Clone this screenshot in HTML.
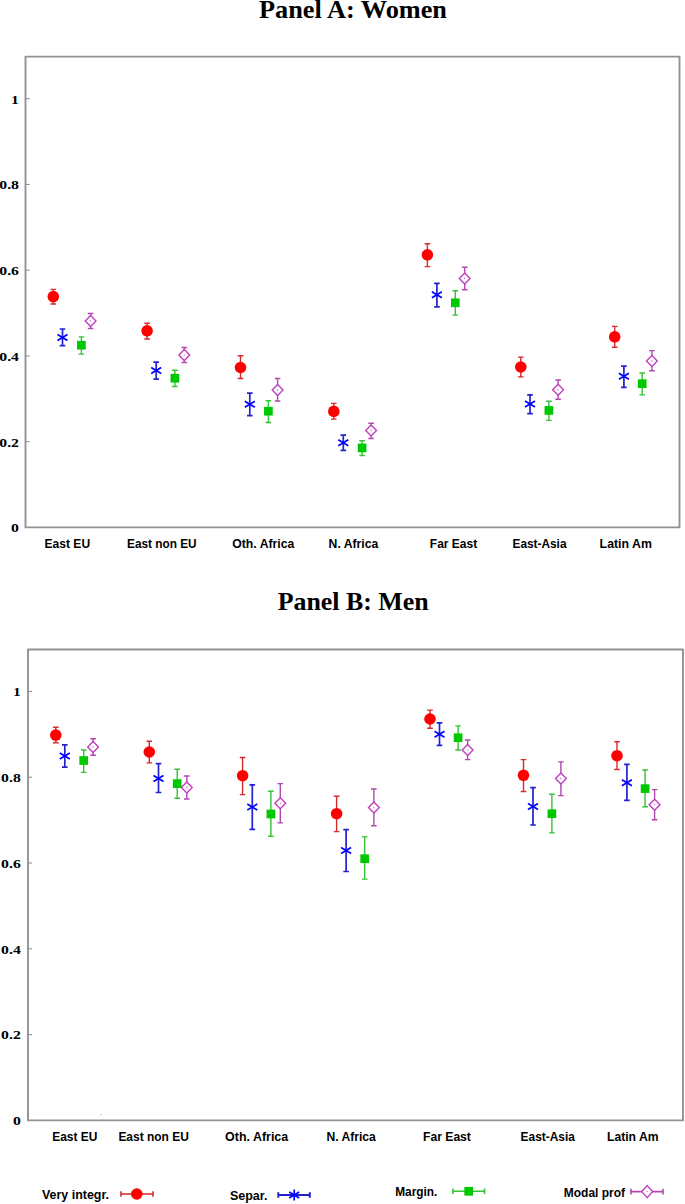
<!DOCTYPE html>
<html><head><meta charset="utf-8"><title>Panels</title>
<style>
html,body{margin:0;padding:0;background:#fff;}
body{width:685px;height:1204px;overflow:hidden;}
svg{display:block;}
.t{font-family:"Liberation Serif",serif;font-weight:bold;font-size:25.8px;fill:#000;}
.yl{font-family:"Liberation Serif",serif;font-weight:bold;font-size:12.4px;fill:#000;}
.xl{font-family:"Liberation Sans",sans-serif;font-weight:bold;font-size:12px;fill:#000;}
</style></head>
<body>
<svg width="685" height="1204" viewBox="0 0 685 1204">
<rect width="685" height="1204" fill="#fff"/>
<text x="259.0" y="17.5" class="t" textLength="188" lengthAdjust="spacingAndGlyphs">Panel A: Women</text>
<text x="277.7" y="609.5" class="t" textLength="151" lengthAdjust="spacingAndGlyphs">Panel B: Men</text>
<path d="M25.5 56.6H679.5V527.4H25.5Z" stroke="#929292" stroke-width="1.9" fill="none" stroke-linejoin="round"/>
<text x="19.0" y="532.30" class="yl" text-anchor="end" transform="translate(19.0 0) scale(1.27 1) translate(-19.0 0)">0</text>
<path d="M25.5 441.66H29.7" stroke="#929292" stroke-width="1.1"/>
<text x="19.0" y="446.56" class="yl" text-anchor="end" transform="translate(19.0 0) scale(1.27 1) translate(-19.0 0)">0.2</text>
<path d="M25.5 355.92H29.7" stroke="#929292" stroke-width="1.1"/>
<text x="19.0" y="360.82" class="yl" text-anchor="end" transform="translate(19.0 0) scale(1.27 1) translate(-19.0 0)">0.4</text>
<path d="M25.5 270.18H29.7" stroke="#929292" stroke-width="1.1"/>
<text x="19.0" y="275.08" class="yl" text-anchor="end" transform="translate(19.0 0) scale(1.27 1) translate(-19.0 0)">0.6</text>
<path d="M25.5 184.44H29.7" stroke="#929292" stroke-width="1.1"/>
<text x="19.0" y="189.34" class="yl" text-anchor="end" transform="translate(19.0 0) scale(1.27 1) translate(-19.0 0)">0.8</text>
<path d="M25.5 98.70H29.7" stroke="#929292" stroke-width="1.1"/>
<text x="19.0" y="103.60" class="yl" text-anchor="end" transform="translate(19.0 0) scale(1.27 1) translate(-19.0 0)">1</text>
<text x="44.5" y="547.6" class="xl" textLength="45.6" lengthAdjust="spacingAndGlyphs">East EU</text>
<text x="127.0" y="547.6" class="xl" textLength="69.60000000000001" lengthAdjust="spacingAndGlyphs">East non EU</text>
<text x="232.3" y="547.6" class="xl" textLength="62.0" lengthAdjust="spacingAndGlyphs">Oth. Africa</text>
<text x="328.59999999999997" y="547.6" class="xl" textLength="49.6" lengthAdjust="spacingAndGlyphs">N. Africa</text>
<text x="429.79999999999995" y="547.6" class="xl" textLength="47.400000000000006" lengthAdjust="spacingAndGlyphs">Far East</text>
<text x="512.5" y="547.6" class="xl" textLength="54.0" lengthAdjust="spacingAndGlyphs">East-Asia</text>
<text x="599.6" y="547.6" class="xl" textLength="52.300000000000004" lengthAdjust="spacingAndGlyphs">Latin Am</text>
<path d="M53.30 289.40V304.00M50.50 289.40H56.10M50.50 304.00H56.10" stroke="#d82a2a" stroke-width="1.4" fill="none"/>
<circle cx="53.3" cy="296.6" r="5.8" fill="#ff0000"/>
<path d="M62.50 329.00V345.70M59.70 329.00H65.30M59.70 345.70H65.30" stroke="#2222d0" stroke-width="1.7" fill="none"/>
<path d="M57.50 334.50L67.50 340.50M57.50 340.50L67.50 334.50" stroke="#0000ff" stroke-width="1.7" fill="none"/>
<path d="M81.40 336.90V354.10M78.60 336.90H84.20M78.60 354.10H84.20" stroke="#34c434" stroke-width="1.4" fill="none"/>
<rect x="77.05" y="340.85" width="8.7" height="8.7" fill="#00c800"/>
<path d="M90.60 313.50V328.50M87.80 313.50H93.40M87.80 328.50H93.40" stroke="#b048b0" stroke-width="1.4" fill="none"/>
<path d="M90.60 315.40L96.00 320.90L90.60 326.40L85.20 320.90Z" stroke="#bf40bf" stroke-width="1.4" fill="#fff"/><circle cx="90.6" cy="320.9" r="0.7" fill="#bf40bf" opacity="0.85"/>
<path d="M147.10 323.20V339.00M144.30 323.20H149.90M144.30 339.00H149.90" stroke="#d82a2a" stroke-width="1.4" fill="none"/>
<circle cx="147.1" cy="330.8" r="5.8" fill="#ff0000"/>
<path d="M156.20 362.20V379.20M153.40 362.20H159.00M153.40 379.20H159.00" stroke="#2222d0" stroke-width="1.7" fill="none"/>
<path d="M151.20 367.50L161.20 373.50M151.20 373.50L161.20 367.50" stroke="#0000ff" stroke-width="1.7" fill="none"/>
<path d="M174.90 370.20V386.50M172.10 370.20H177.70M172.10 386.50H177.70" stroke="#34c434" stroke-width="1.4" fill="none"/>
<rect x="170.55" y="373.85" width="8.7" height="8.7" fill="#00c800"/>
<path d="M184.30 347.50V362.50M181.50 347.50H187.10M181.50 362.50H187.10" stroke="#b048b0" stroke-width="1.4" fill="none"/>
<path d="M184.30 349.40L189.70 354.90L184.30 360.40L178.90 354.90Z" stroke="#bf40bf" stroke-width="1.4" fill="#fff"/><circle cx="184.3" cy="354.9" r="0.7" fill="#bf40bf" opacity="0.85"/>
<path d="M240.50 355.70V378.50M237.70 355.70H243.30M237.70 378.50H243.30" stroke="#d82a2a" stroke-width="1.4" fill="none"/>
<circle cx="240.5" cy="367.5" r="5.8" fill="#ff0000"/>
<path d="M249.80 393.20V415.70M247.00 393.20H252.60M247.00 415.70H252.60" stroke="#2222d0" stroke-width="1.7" fill="none"/>
<path d="M244.80 401.30L254.80 407.30M244.80 407.30L254.80 401.30" stroke="#0000ff" stroke-width="1.7" fill="none"/>
<path d="M268.40 400.70V422.50M265.60 400.70H271.20M265.60 422.50H271.20" stroke="#34c434" stroke-width="1.4" fill="none"/>
<rect x="264.05" y="406.85" width="8.7" height="8.7" fill="#00c800"/>
<path d="M277.60 378.50V401.00M274.80 378.50H280.40M274.80 401.00H280.40" stroke="#b048b0" stroke-width="1.4" fill="none"/>
<path d="M277.60 384.50L283.00 390.00L277.60 395.50L272.20 390.00Z" stroke="#bf40bf" stroke-width="1.4" fill="#fff"/><circle cx="277.6" cy="390.0" r="0.7" fill="#bf40bf" opacity="0.85"/>
<path d="M333.80 403.40V419.10M331.00 403.40H336.60M331.00 419.10H336.60" stroke="#d82a2a" stroke-width="1.4" fill="none"/>
<circle cx="333.8" cy="411.4" r="5.8" fill="#ff0000"/>
<path d="M343.30 435.10V450.40M340.50 435.10H346.10M340.50 450.40H346.10" stroke="#2222d0" stroke-width="1.7" fill="none"/>
<path d="M338.30 439.80L348.30 445.80M338.30 445.80L348.30 439.80" stroke="#0000ff" stroke-width="1.7" fill="none"/>
<path d="M362.10 440.70V455.50M359.30 440.70H364.90M359.30 455.50H364.90" stroke="#34c434" stroke-width="1.4" fill="none"/>
<rect x="357.75" y="443.55" width="8.7" height="8.7" fill="#00c800"/>
<path d="M371.10 423.20V438.50M368.30 423.20H373.90M368.30 438.50H373.90" stroke="#b048b0" stroke-width="1.4" fill="none"/>
<path d="M371.10 425.00L376.50 430.50L371.10 436.00L365.70 430.50Z" stroke="#bf40bf" stroke-width="1.4" fill="#fff"/><circle cx="371.1" cy="430.5" r="0.7" fill="#bf40bf" opacity="0.85"/>
<path d="M427.40 243.80V266.60M424.60 243.80H430.20M424.60 266.60H430.20" stroke="#d82a2a" stroke-width="1.4" fill="none"/>
<circle cx="427.4" cy="254.8" r="5.8" fill="#ff0000"/>
<path d="M436.90 283.30V306.80M434.10 283.30H439.70M434.10 306.80H439.70" stroke="#2222d0" stroke-width="1.7" fill="none"/>
<path d="M431.90 291.70L441.90 297.70M431.90 297.70L441.90 291.70" stroke="#0000ff" stroke-width="1.7" fill="none"/>
<path d="M455.30 290.80V315.10M452.50 290.80H458.10M452.50 315.10H458.10" stroke="#34c434" stroke-width="1.4" fill="none"/>
<rect x="450.95" y="298.45" width="8.7" height="8.7" fill="#00c800"/>
<path d="M464.70 267.30V289.80M461.90 267.30H467.50M461.90 289.80H467.50" stroke="#b048b0" stroke-width="1.4" fill="none"/>
<path d="M464.70 273.00L470.10 278.50L464.70 284.00L459.30 278.50Z" stroke="#bf40bf" stroke-width="1.4" fill="#fff"/><circle cx="464.7" cy="278.5" r="0.7" fill="#bf40bf" opacity="0.85"/>
<path d="M520.80 357.10V376.90M518.00 357.10H523.60M518.00 376.90H523.60" stroke="#d82a2a" stroke-width="1.4" fill="none"/>
<circle cx="520.8" cy="367.0" r="5.8" fill="#ff0000"/>
<path d="M530.00 394.80V413.70M527.20 394.80H532.80M527.20 413.70H532.80" stroke="#2222d0" stroke-width="1.7" fill="none"/>
<path d="M525.00 401.10L535.00 407.10M525.00 407.10L535.00 401.10" stroke="#0000ff" stroke-width="1.7" fill="none"/>
<path d="M548.90 401.20V420.40M546.10 401.20H551.70M546.10 420.40H551.70" stroke="#34c434" stroke-width="1.4" fill="none"/>
<rect x="544.55" y="406.05" width="8.7" height="8.7" fill="#00c800"/>
<path d="M558.10 380.00V399.20M555.30 380.00H560.90M555.30 399.20H560.90" stroke="#b048b0" stroke-width="1.4" fill="none"/>
<path d="M558.10 384.30L563.50 389.80L558.10 395.30L552.70 389.80Z" stroke="#bf40bf" stroke-width="1.4" fill="#fff"/><circle cx="558.1" cy="389.8" r="0.7" fill="#bf40bf" opacity="0.85"/>
<path d="M614.70 326.40V347.20M611.90 326.40H617.50M611.90 347.20H617.50" stroke="#d82a2a" stroke-width="1.4" fill="none"/>
<circle cx="614.7" cy="336.8" r="5.8" fill="#ff0000"/>
<path d="M623.90 366.10V387.30M621.10 366.10H626.70M621.10 387.30H626.70" stroke="#2222d0" stroke-width="1.7" fill="none"/>
<path d="M618.90 373.30L628.90 379.30M618.90 379.30L628.90 373.30" stroke="#0000ff" stroke-width="1.7" fill="none"/>
<path d="M642.20 373.00V394.90M639.40 373.00H645.00M639.40 394.90H645.00" stroke="#34c434" stroke-width="1.4" fill="none"/>
<rect x="637.85" y="379.35" width="8.7" height="8.7" fill="#00c800"/>
<path d="M651.90 350.60V370.70M649.10 350.60H654.70M649.10 370.70H654.70" stroke="#b048b0" stroke-width="1.4" fill="none"/>
<path d="M651.90 355.50L657.30 361.00L651.90 366.50L646.50 361.00Z" stroke="#bf40bf" stroke-width="1.4" fill="#fff"/><circle cx="651.9" cy="361.0" r="0.7" fill="#bf40bf" opacity="0.85"/>
<path d="M28.0 649.5H683.0V1120.4H28.0Z" stroke="#929292" stroke-width="1.9" fill="none" stroke-linejoin="round"/>
<text x="20.8" y="1125.30" class="yl" text-anchor="end" transform="translate(20.8 0) scale(1.27 1) translate(-20.8 0)">0</text>
<path d="M28.0 1034.60H32.2" stroke="#929292" stroke-width="1.1"/>
<text x="20.8" y="1039.50" class="yl" text-anchor="end" transform="translate(20.8 0) scale(1.27 1) translate(-20.8 0)">0.2</text>
<path d="M28.0 948.80H32.2" stroke="#929292" stroke-width="1.1"/>
<text x="20.8" y="953.70" class="yl" text-anchor="end" transform="translate(20.8 0) scale(1.27 1) translate(-20.8 0)">0.4</text>
<path d="M28.0 863.00H32.2" stroke="#929292" stroke-width="1.1"/>
<text x="20.8" y="867.90" class="yl" text-anchor="end" transform="translate(20.8 0) scale(1.27 1) translate(-20.8 0)">0.6</text>
<path d="M28.0 777.20H32.2" stroke="#929292" stroke-width="1.1"/>
<text x="20.8" y="782.10" class="yl" text-anchor="end" transform="translate(20.8 0) scale(1.27 1) translate(-20.8 0)">0.8</text>
<path d="M28.0 691.40H32.2" stroke="#929292" stroke-width="1.1"/>
<text x="20.8" y="696.30" class="yl" text-anchor="end" transform="translate(20.8 0) scale(1.27 1) translate(-20.8 0)">1</text>
<text x="52.199999999999996" y="1140.7" class="xl" textLength="45.2" lengthAdjust="spacingAndGlyphs">East EU</text>
<text x="118.4" y="1140.7" class="xl" textLength="70.5" lengthAdjust="spacingAndGlyphs">East non EU</text>
<text x="225.1" y="1140.7" class="xl" textLength="63.1" lengthAdjust="spacingAndGlyphs">Oth. Africa</text>
<text x="326.4" y="1140.7" class="xl" textLength="49.400000000000006" lengthAdjust="spacingAndGlyphs">N. Africa</text>
<text x="423.09999999999997" y="1140.7" class="xl" textLength="47.800000000000004" lengthAdjust="spacingAndGlyphs">Far East</text>
<text x="520.6" y="1140.7" class="xl" textLength="54.300000000000004" lengthAdjust="spacingAndGlyphs">East-Asia</text>
<text x="607.0" y="1140.7" class="xl" textLength="51.5" lengthAdjust="spacingAndGlyphs">Latin Am</text>
<path d="M55.80 727.30V742.80M53.00 727.30H58.60M53.00 742.80H58.60" stroke="#d82a2a" stroke-width="1.4" fill="none"/>
<circle cx="55.8" cy="735.1" r="5.8" fill="#ff0000"/>
<path d="M64.80 744.80V767.10M62.00 744.80H67.60M62.00 767.10H67.60" stroke="#2222d0" stroke-width="1.7" fill="none"/>
<path d="M59.80 752.90L69.80 758.90M59.80 758.90L69.80 752.90" stroke="#0000ff" stroke-width="1.7" fill="none"/>
<path d="M83.70 750.00V772.40M80.90 750.00H86.50M80.90 772.40H86.50" stroke="#34c434" stroke-width="1.4" fill="none"/>
<rect x="79.35" y="756.15" width="8.7" height="8.7" fill="#00c800"/>
<path d="M93.10 738.70V755.20M90.30 738.70H95.90M90.30 755.20H95.90" stroke="#b048b0" stroke-width="1.4" fill="none"/>
<path d="M93.10 741.50L98.50 747.00L93.10 752.50L87.70 747.00Z" stroke="#bf40bf" stroke-width="1.4" fill="#fff"/><circle cx="93.1" cy="747.0" r="0.7" fill="#bf40bf" opacity="0.85"/>
<path d="M149.30 741.20V762.90M146.50 741.20H152.10M146.50 762.90H152.10" stroke="#d82a2a" stroke-width="1.4" fill="none"/>
<circle cx="149.3" cy="752.0" r="5.8" fill="#ff0000"/>
<path d="M158.50 763.70V792.50M155.70 763.70H161.30M155.70 792.50H161.30" stroke="#2222d0" stroke-width="1.7" fill="none"/>
<path d="M153.50 775.50L163.50 781.50M153.50 781.50L163.50 775.50" stroke="#0000ff" stroke-width="1.7" fill="none"/>
<path d="M177.20 769.30V798.30M174.40 769.30H180.00M174.40 798.30H180.00" stroke="#34c434" stroke-width="1.4" fill="none"/>
<rect x="172.85" y="779.25" width="8.7" height="8.7" fill="#00c800"/>
<path d="M186.80 776.00V799.00M184.00 776.00H189.60M184.00 799.00H189.60" stroke="#b048b0" stroke-width="1.4" fill="none"/>
<path d="M186.80 782.00L192.20 787.50L186.80 793.00L181.40 787.50Z" stroke="#bf40bf" stroke-width="1.4" fill="#fff"/><circle cx="186.8" cy="787.5" r="0.7" fill="#bf40bf" opacity="0.85"/>
<path d="M242.60 757.50V794.60M239.80 757.50H245.40M239.80 794.60H245.40" stroke="#d82a2a" stroke-width="1.4" fill="none"/>
<circle cx="242.6" cy="775.7" r="5.8" fill="#ff0000"/>
<path d="M252.30 784.90V829.40M249.50 784.90H255.10M249.50 829.40H255.10" stroke="#2222d0" stroke-width="1.7" fill="none"/>
<path d="M247.30 804.10L257.30 810.10M247.30 810.10L257.30 804.10" stroke="#0000ff" stroke-width="1.7" fill="none"/>
<path d="M270.90 791.30V836.20M268.10 791.30H273.70M268.10 836.20H273.70" stroke="#34c434" stroke-width="1.4" fill="none"/>
<rect x="266.55" y="809.65" width="8.7" height="8.7" fill="#00c800"/>
<path d="M280.30 783.60V822.90M277.50 783.60H283.10M277.50 822.90H283.10" stroke="#b048b0" stroke-width="1.4" fill="none"/>
<path d="M280.30 797.70L285.70 803.20L280.30 808.70L274.90 803.20Z" stroke="#bf40bf" stroke-width="1.4" fill="#fff"/><circle cx="280.3" cy="803.2" r="0.7" fill="#bf40bf" opacity="0.85"/>
<path d="M336.60 796.30V831.60M333.80 796.30H339.40M333.80 831.60H339.40" stroke="#d82a2a" stroke-width="1.4" fill="none"/>
<circle cx="336.6" cy="813.7" r="5.8" fill="#ff0000"/>
<path d="M346.10 829.60V871.50M343.30 829.60H348.90M343.30 871.50H348.90" stroke="#2222d0" stroke-width="1.7" fill="none"/>
<path d="M341.10 847.50L351.10 853.50M341.10 853.50L351.10 847.50" stroke="#0000ff" stroke-width="1.7" fill="none"/>
<path d="M364.70 836.90V879.10M361.90 836.90H367.50M361.90 879.10H367.50" stroke="#34c434" stroke-width="1.4" fill="none"/>
<rect x="360.35" y="854.35" width="8.7" height="8.7" fill="#00c800"/>
<path d="M373.90 789.00V825.80M371.10 789.00H376.70M371.10 825.80H376.70" stroke="#b048b0" stroke-width="1.4" fill="none"/>
<path d="M373.90 802.10L379.30 807.60L373.90 813.10L368.50 807.60Z" stroke="#bf40bf" stroke-width="1.4" fill="#fff"/><circle cx="373.9" cy="807.6" r="0.7" fill="#bf40bf" opacity="0.85"/>
<path d="M430.00 710.10V728.20M427.20 710.10H432.80M427.20 728.20H432.80" stroke="#d82a2a" stroke-width="1.4" fill="none"/>
<circle cx="430.0" cy="719.0" r="5.8" fill="#ff0000"/>
<path d="M439.50 722.80V745.40M436.70 722.80H442.30M436.70 745.40H442.30" stroke="#2222d0" stroke-width="1.7" fill="none"/>
<path d="M434.50 731.30L444.50 737.30M434.50 737.30L444.50 731.30" stroke="#0000ff" stroke-width="1.7" fill="none"/>
<path d="M458.10 725.90V750.00M455.30 725.90H460.90M455.30 750.00H460.90" stroke="#34c434" stroke-width="1.4" fill="none"/>
<rect x="453.75" y="733.35" width="8.7" height="8.7" fill="#00c800"/>
<path d="M467.60 740.00V759.60M464.80 740.00H470.40M464.80 759.60H470.40" stroke="#b048b0" stroke-width="1.4" fill="none"/>
<path d="M467.60 744.40L473.00 749.90L467.60 755.40L462.20 749.90Z" stroke="#bf40bf" stroke-width="1.4" fill="#fff"/><circle cx="467.6" cy="749.9" r="0.7" fill="#bf40bf" opacity="0.85"/>
<path d="M523.50 759.60V791.50M520.70 759.60H526.30M520.70 791.50H526.30" stroke="#d82a2a" stroke-width="1.4" fill="none"/>
<circle cx="523.5" cy="775.3" r="5.8" fill="#ff0000"/>
<path d="M533.00 787.70V825.00M530.20 787.70H535.80M530.20 825.00H535.80" stroke="#2222d0" stroke-width="1.7" fill="none"/>
<path d="M528.00 803.60L538.00 809.60M528.00 809.60L538.00 803.60" stroke="#0000ff" stroke-width="1.7" fill="none"/>
<path d="M551.90 794.30V832.90M549.10 794.30H554.70M549.10 832.90H554.70" stroke="#34c434" stroke-width="1.4" fill="none"/>
<rect x="547.55" y="809.35" width="8.7" height="8.7" fill="#00c800"/>
<path d="M560.90 761.90V795.60M558.10 761.90H563.70M558.10 795.60H563.70" stroke="#b048b0" stroke-width="1.4" fill="none"/>
<path d="M560.90 773.00L566.30 778.50L560.90 784.00L555.50 778.50Z" stroke="#bf40bf" stroke-width="1.4" fill="#fff"/><circle cx="560.9" cy="778.5" r="0.7" fill="#bf40bf" opacity="0.85"/>
<path d="M617.00 741.70V769.50M614.20 741.70H619.80M614.20 769.50H619.80" stroke="#d82a2a" stroke-width="1.4" fill="none"/>
<circle cx="617.0" cy="755.7" r="5.8" fill="#ff0000"/>
<path d="M626.90 764.30V800.40M624.10 764.30H629.70M624.10 800.40H629.70" stroke="#2222d0" stroke-width="1.7" fill="none"/>
<path d="M621.90 779.70L631.90 785.70M621.90 785.70L631.90 779.70" stroke="#0000ff" stroke-width="1.7" fill="none"/>
<path d="M645.10 770.00V806.70M642.30 770.00H647.90M642.30 806.70H647.90" stroke="#34c434" stroke-width="1.4" fill="none"/>
<rect x="640.75" y="784.25" width="8.7" height="8.7" fill="#00c800"/>
<path d="M654.60 789.60V819.80M651.80 789.60H657.40M651.80 819.80H657.40" stroke="#b048b0" stroke-width="1.4" fill="none"/>
<path d="M654.60 799.20L660.00 804.70L654.60 810.20L649.20 804.70Z" stroke="#bf40bf" stroke-width="1.4" fill="#fff"/><circle cx="654.6" cy="804.7" r="0.7" fill="#bf40bf" opacity="0.85"/>
<text x="42.0" y="1199.3" class="xl" textLength="67.0" lengthAdjust="spacingAndGlyphs">Very integr.</text>
<path d="M121 1194.0H153M121 1191.2V1196.8M153 1191.2V1196.8" stroke="#d82a2a" stroke-width="1.6" fill="none"/>
<circle cx="136.8" cy="1194.0" r="5.8" fill="#ff0000"/>
<text x="229.9" y="1199.7" class="xl" textLength="37.5" lengthAdjust="spacingAndGlyphs">Separ.</text>
<path d="M278.3 1195.0H309.8M278.3 1192.2V1197.8M309.8 1192.2V1197.8" stroke="#2222d0" stroke-width="2.0" fill="none"/>
<path d="M289.20 1192.00L299.20 1198.00M289.20 1198.00L299.20 1192.00" stroke="#0000ff" stroke-width="1.7" fill="none"/><path d="M294.20 1189.50V1200.50" stroke="#0000ff" stroke-width="1.7"/>
<text x="395.2" y="1196.0" class="xl" textLength="42.1" lengthAdjust="spacingAndGlyphs">Margin.</text>
<path d="M452.9 1191.3H484.5M452.9 1188.5V1194.1M484.5 1188.5V1194.1" stroke="#34c434" stroke-width="1.6" fill="none"/>
<rect x="464.35" y="1186.95" width="8.7" height="8.7" fill="#00c800"/>
<text x="563.8" y="1196.6" class="xl" textLength="61.2" lengthAdjust="spacingAndGlyphs">Modal prof</text>
<path d="M631 1191.6H663M631 1188.8V1194.3999999999999M663 1188.8V1194.3999999999999" stroke="#b048b0" stroke-width="1.6" fill="none"/>
<path d="M647.20 1185.60L652.60 1191.60L647.20 1197.60L641.80 1191.60Z" stroke="#bf40bf" stroke-width="1.4" fill="#fff"/><circle cx="647.2" cy="1191.6" r="0.7" fill="#bf40bf" opacity="0.85"/>
<rect x="100.5" y="1114.2" width="1" height="1" fill="#999"/>
<rect x="29.5" y="777.2" width="1" height="1" fill="#bbb"/>
</svg>
</body></html>
